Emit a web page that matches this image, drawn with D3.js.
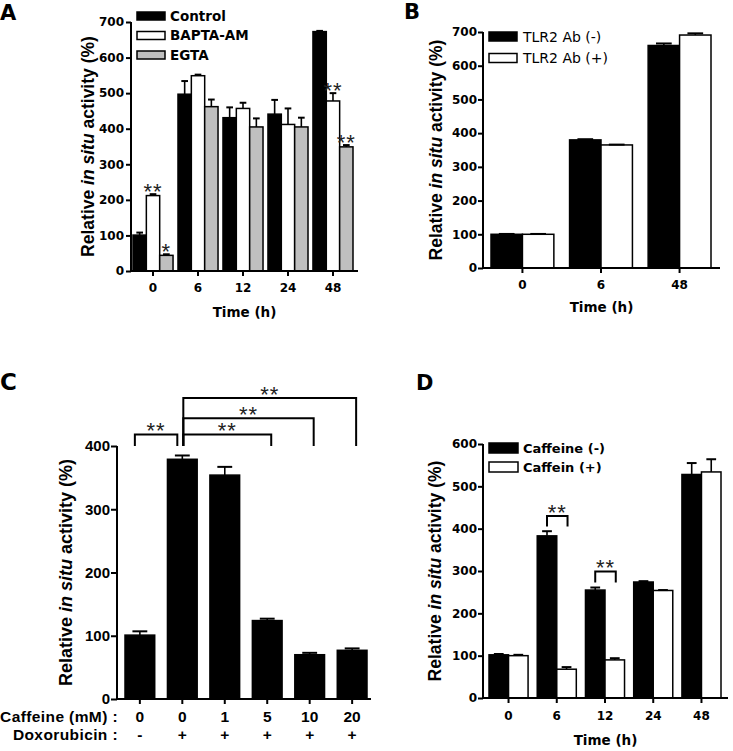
<!DOCTYPE html>
<html><head><meta charset="utf-8">
<script src="https://cdn.jsdelivr.net/npm/d3@7"></script>
<style>body{margin:0;background:#fff} svg{display:block}</style>
</head><body>
<svg id="fig" width="733" height="751"></svg>
<script>
// ---------- Panel A ----------
const aTimes = ["0","6","12","24","48"];
const aSeries = ["Control","BAPTA-AM","EGTA"];
const aControl = [101,497,431,441,673];
const aControlErr = [7,37,29,40,2];
const aBapta = [212,549,457,412,478];
const aBaptaErr = [4,3,16,45,22];
const aEgta = [44,462,405,405,349];
const aEgtaErr = [3,20,24,26,5];
const aTicks = [0,100,200,300,400,500,600,700];
const aStars = [
  {series:1, group:0, text:"**"},
  {series:2, group:0, text:"*"},
  {series:1, group:4, text:"**"},
  {series:2, group:4, text:"**"}
];

// ---------- Panel B ----------
const bTimes = ["0","6","48"];
const bSeries = ["TLR2 Ab (-)","TLR2 Ab (+)"];
const bNeg = [100,380,660];
const bNegErr = [1,2,6];
const bPos = [100,365,691];
const bPosErr = [1,1,5];
const bTicks = [0,100,200,300,400,500,600,700];

// ---------- Panel C ----------
const cCaffeine = ["0","0","1","5","10","20"];
const cDoxo = ["-","+","+","+","+","+"];
const cValues = [101,379,354,124,70,77];
const cErr = [6,6,13,3,3,3];
const cTicks = [0,100,200,300,400];
const cBrackets = [
  {from:0, to:1, level:418, base:400},
  {from:1, to:3, level:418, base:400},
  {from:1, to:4, level:444, base:400},
  {from:1, to:5, level:476, base:400}
];

// ---------- Panel D ----------
const dTimes = ["0","6","12","24","48"];
const dSeries = ["Caffeine (-)","Caffein (+)"];
const dNeg = [102,383,255,274,528];
const dNegErr = [2,11,6,2,27];
const dPos = [100,68,90,254,534];
const dPosErr = [2,5,4,1,30];
const dTicks = [0,100,200,300,400,500,600];
const dBrackets = [
  {group:1, level:430, base:405},
  {group:2, level:299, base:273}
];

// ---------- drawing ----------
const svg = d3.select("#fig");
const DJ = "'DejaVu Sans', sans-serif";
const LS = "'Liberation Sans', Arial, sans-serif";

function panel(cfg) {
  const g = svg.append("g");
  const y = d3.scaleLinear().domain([0, cfg.yMax]).range([cfg.y0, cfg.yTop]);
  const x = d3.scaleBand().domain(cfg.cats.map((d,i)=>i)).range(cfg.band).paddingInner(cfg.pad).paddingOuter(0);
  const sub = d3.scaleBand().domain(cfg.series.map((d,i)=>i)).range([0, x.bandwidth()]);
  const bw = sub.bandwidth();

  cfg.series.forEach((s, si) => {
    g.append("g").selectAll("rect").data(s.values).join("rect")
      .attr("x", (v,gi) => x(gi) + sub(si))
      .attr("y", v => y(v))
      .attr("width", bw)
      .attr("height", v => y(0) - y(v))
      .attr("fill", s.fill)
      .attr("stroke", "#000")
      .attr("stroke-width", 1.5);
    const eg = g.append("g").attr("stroke","#000");
    s.values.forEach((v, gi) => {
      const e = s.errors[gi];
      const cx = x(gi) + sub(si) + bw/2;
      eg.append("line").attr("x1", cx).attr("x2", cx).attr("y1", y(v)).attr("y2", y(v+e)).attr("stroke-width", 1.6);
      eg.append("line").attr("x1", cx - bw*0.25).attr("x2", cx + bw*0.25).attr("y1", y(v+e)).attr("y2", y(v+e)).attr("stroke-width", 2);
    });
  });

  const ya = g.append("g").attr("transform", `translate(${cfg.axisX},0)`)
    .call(d3.axisLeft(y).tickValues(cfg.yTicks).tickSize(cfg.yTickSize || 5).tickPadding(cfg.yTickPad || 2));
  ya.select(".domain").remove();
  ya.selectAll(".tick line").attr("stroke-width", 2);
  ya.selectAll(".tick text").attr("font-family", cfg.tickFont).attr("font-weight","bold")
    .attr("font-size", cfg.tickSize).attr("fill","#000");
  g.append("line").attr("x1", cfg.axisX).attr("x2", cfg.axisX).attr("y1", y(0)+1).attr("y2", y(cfg.yMax))
    .attr("stroke","#000").attr("stroke-width", 2);

  g.append("line").attr("x1", cfg.axisX).attr("x2", cfg.axisRight).attr("y1", y(0)).attr("y2", y(0))
    .attr("stroke","#000").attr("stroke-width", 2);
  const xa = g.append("g").attr("transform", `translate(0,${y(0)})`)
    .call(d3.axisBottom(x).tickSize(5).tickPadding(cfg.xTickPad || 7).tickFormat(i => cfg.showXLabels === false ? "" : cfg.cats[i]));
  xa.select(".domain").remove();
  xa.selectAll(".tick line").attr("stroke-width", 2);
  xa.selectAll(".tick text").attr("font-family", cfg.tickFont).attr("font-weight","bold")
    .attr("font-size", cfg.tickSize).attr("fill","#000");

  const yl = g.append("text")
    .attr("transform", `translate(${cfg.yLabelX},${(cfg.y0 + cfg.yTop)/2}) rotate(-90)`)
    .attr("text-anchor","middle").attr("dy","0.35em")
    .attr("font-family", cfg.yLabelFont).attr("font-size", cfg.yLabelSize)
    .attr("font-weight", cfg.yLabelWeight || "normal").attr("fill","#000");
  yl.append("tspan").text("Relative ");
  yl.append("tspan").attr("font-style","italic").text("in situ");
  yl.append("tspan").text(" activity (%)");

  if (cfg.xLabel) {
    g.append("text").attr("x", (cfg.axisX + cfg.axisRight)/2).attr("y", cfg.xLabelY)
      .attr("text-anchor","middle").attr("dy","0.35em")
      .attr("font-family", DJ).attr("font-weight","bold").attr("font-size", 13.5).attr("fill","#000")
      .text(cfg.xLabel);
  }

  if (cfg.legend) {
    const L = cfg.legend;
    cfg.series.forEach((s, si) => {
      const cy = L.y + si * L.step;
      g.append("rect").attr("x", L.x).attr("y", cy - L.h/2).attr("width", L.w).attr("height", L.h)
        .attr("fill", s.fill).attr("stroke","#000").attr("stroke-width",1.5);
      g.append("text").attr("x", L.tx).attr("y", cy).attr("dy","0.36em")
        .attr("font-family", L.font).attr("font-weight", L.weight).attr("font-size", L.size).attr("fill","#000")
        .text(s.name);
    });
  }

  g.append("text").attr("x", cfg.letter.x).attr("y", cfg.letter.y)
    .attr("font-family", DJ).attr("font-weight","bold").attr("font-size", cfg.letter.size || 21).attr("fill","#000")
    .text(cfg.letter.t);

  return {g, x, y, sub, bw};
}

function star(g, cx, cy, text) {
  const fs = 22;
  g.append("text").attr("x", cx).attr("y", cy + fs*0.58).attr("text-anchor","middle")
    .attr("font-family", LS).attr("font-size", fs).attr("letter-spacing", 1).attr("fill","#222").text(text);
}

// ---- A ----
const A = panel({
  cats: aTimes,
  series: [
    {name: aSeries[0], values: aControl, errors: aControlErr, fill: "#000"},
    {name: aSeries[1], values: aBapta, errors: aBaptaErr, fill: "#fff"},
    {name: aSeries[2], values: aEgta, errors: aEgtaErr, fill: "#bfbfbf"}
  ],
  yMax: 700, y0: 271, yTop: 22, yTicks: aTicks,
  axisX: 131, axisRight: 358, band: [133, 353], pad: 0.11,
  tickFont: DJ, tickSize: 12, yTickPad: 2, xTickPad: 7,
  yLabelX: 88, yLabelFont: LS, yLabelSize: 17.5, yLabelWeight: "bold",
  xLabel: "Time (h)", xLabelY: 312,
  legend: {x: 137, y: 16, step: 19.5, w: 28, h: 8, tx: 170, font: DJ, weight: "bold", size: 13.5},
  letter: {t: "A", x: 0, y: 20}
});
aStars.forEach(s => {
  const ser = [aControl, aBapta, aEgta][s.series];
  const err = [aControlErr, aBaptaErr, aEgtaErr][s.series];
  const cx = A.x(s.group) + A.sub(s.series) + A.bw/2;
  const top = A.y(ser[s.group] + err[s.group]);
  star(A.g, cx, top - 8, s.text);
});

// ---- B ----
panel({
  cats: bTimes,
  series: [
    {name: bSeries[0], values: bNeg, errors: bNegErr, fill: "#000"},
    {name: bSeries[1], values: bPos, errors: bPosErr, fill: "#fff"}
  ],
  yMax: 700, y0: 268, yTop: 32, yTicks: bTicks,
  axisX: 483, axisRight: 720, band: [491, 711], pad: 0.2,
  tickFont: DJ, tickSize: 12, yTickPad: 1, xTickPad: 7,
  yLabelX: 436, yLabelFont: LS, yLabelSize: 17.5, yLabelWeight: "bold",
  xLabel: "Time (h)", xLabelY: 307,
  legend: {x: 489, y: 36.5, step: 21.5, w: 28, h: 9, tx: 523, font: DJ, weight: "normal", size: 14},
  letter: {t: "B", x: 404, y: 19}
});

// ---- C ----
const C = panel({
  cats: cCaffeine,
  series: [{name: "", values: cValues, errors: cErr, fill: "#000"}],
  yMax: 400, y0: 699, yTop: 446, yTicks: cTicks,
  axisX: 117, axisRight: 371, band: [125, 367], pad: 0.3,
  tickFont: LS, tickSize: 15, yTickSize: 6, yTickPad: 1, showXLabels: false,
  yLabelX: 66, yLabelFont: LS, yLabelSize: 18, yLabelWeight: "bold",
  letter: {t: "C", x: 0, y: 390, size: 23}
});
const cRows = [{label: "Caffeine (mM) :", vals: cCaffeine, cy: 716}, {label: "Doxorubicin :", vals: cDoxo, cy: 734}];
cRows.forEach(r => {
  C.g.append("text").attr("x", 118).attr("y", r.cy).attr("dy","0.36em").attr("text-anchor","end")
    .attr("font-family", LS).attr("font-weight","bold").attr("font-size", 15.5).attr("letter-spacing", 0.4).attr("fill","#000")
    .text(r.label);
  C.g.append("g").selectAll("text").data(r.vals).join("text")
    .attr("x", (d,i) => C.x(i) + C.x.bandwidth()/2).attr("y", r.cy).attr("dy","0.36em").attr("text-anchor","middle")
    .attr("font-family", LS).attr("font-weight","bold").attr("font-size", 15.5).attr("fill","#000")
    .text(d => d);
});
cBrackets.forEach(b => {
  const c = i => C.x(i) + C.x.bandwidth()/2;
  const x1 = c(b.from) + (b.to === 1 ? -5 : 1);
  const x2 = c(b.to) + (b.to === 1 ? -5 : 4);
  const yl = C.y(b.level), yb = C.y(b.base);
  C.g.append("path").attr("d", `M${x1},${yb}V${yl}H${x2}V${yb}`)
    .attr("fill","none").attr("stroke","#000").attr("stroke-width",2);
  star(C.g, (x1 + x2)/2, yl - 9, "**");
});

// ---- D ----
const D = panel({
  cats: dTimes,
  series: [
    {name: dSeries[0], values: dNeg, errors: dNegErr, fill: "#000"},
    {name: dSeries[1], values: dPos, errors: dPosErr, fill: "#fff"}
  ],
  yMax: 600, y0: 698, yTop: 444, yTicks: dTicks,
  axisX: 483, axisRight: 728, band: [489, 721], pad: 0.19,
  tickFont: DJ, tickSize: 12, yTickPad: 1, xTickPad: 8,
  yLabelX: 435, yLabelFont: LS, yLabelSize: 17.5, yLabelWeight: "bold",
  xLabel: "Time (h)", xLabelY: 740,
  legend: {x: 489, y: 448, step: 19, w: 29, h: 10, tx: 523, font: DJ, weight: "bold", size: 13},
  letter: {t: "D", x: 416, y: 390}
});
dBrackets.forEach(b => {
  const x1 = D.x(b.group) + D.sub(0) + D.bw/2;
  const x2 = D.x(b.group) + D.sub(1) + D.bw/2 + 1;
  const yl = D.y(b.level), yb = D.y(b.base);
  D.g.append("path").attr("d", `M${x1},${yb}V${yl}H${x2}V${yb}`)
    .attr("fill","none").attr("stroke","#000").attr("stroke-width",2);
  star(D.g, (x1 + x2)/2, yl - 9, "**");
});
</script>
</body></html>
